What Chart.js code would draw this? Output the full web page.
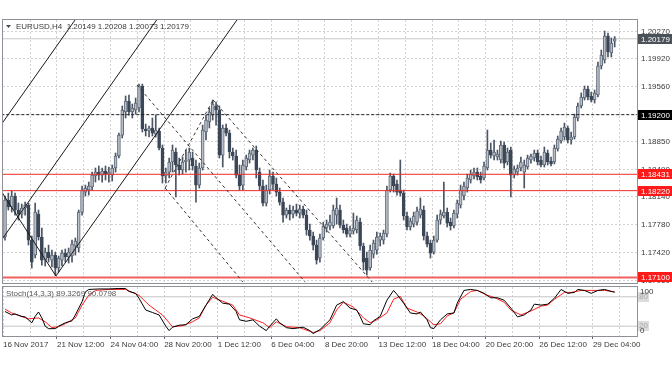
<!DOCTYPE html>
<html><head><meta charset="utf-8">
<script src="https://cdn.jsdelivr.net/npm/chart.js@4"></script>
<style>
html,body{margin:0;padding:0;background:#fff;}
#wrap{position:relative;width:672px;height:372px;overflow:hidden;background:#fff;}
#c1{position:absolute;left:0;top:0;}
#c2{position:absolute;left:0;top:283px;}
</style></head><body>
<div id="wrap"><canvas id="c1" width="672" height="285"></canvas><canvas id="c2" width="672" height="89"></canvas></div>
<script>
const symbol = 'EURUSD', timeframe = 'H4';
const opens=[1.17622,1.18099,1.18009,1.18151,1.17970,1.17918,1.17996,1.18034,1.17583,1.17389,1.17918,1.17622,1.17325,1.17428,1.17325,1.17389,1.17222,1.17325,1.17415,1.17364,1.17377,1.17506,1.17480,1.17944,1.18202,1.18228,1.18267,1.18409,1.18460,1.18421,1.18473,1.18434,1.18421,1.18512,1.18667,1.18937,1.19234,1.19376,1.19234,1.19260,1.19286,1.19570,1.19015,1.18989,1.19028,1.18950,1.18989,1.18770,1.18409,1.18460,1.18589,1.18718,1.18551,1.18486,1.18589,1.18615,1.18641,1.18538,1.18292,1.18512,1.18976,1.19105,1.19195,1.19312,1.19260,1.18679,1.19028,1.18963,1.18718,1.18667,1.18421,1.18292,1.18525,1.18615,1.18679,1.18744,1.18460,1.18280,1.18060,1.18228,1.18409,1.18305,1.18202,1.18073,1.17905,1.17970,1.17918,1.17970,1.17931,1.17983,1.17905,1.17712,1.17635,1.17518,1.17351,1.17609,1.17738,1.17764,1.17764,1.17905,1.17970,1.17776,1.17738,1.17660,1.17699,1.17712,1.17815,1.17506,1.17351,1.17222,1.17402,1.17454,1.17583,1.17583,1.17660,1.18228,1.18409,1.18305,1.18228,1.18189,1.17893,1.17751,1.17789,1.17815,1.17905,1.17970,1.17635,1.17544,1.17428,1.17583,1.17841,1.17893,1.17944,1.17815,1.17764,1.17918,1.18034,1.18151,1.18254,1.18357,1.18409,1.18460,1.18409,1.18383,1.18512,1.18744,1.18667,1.18654,1.18615,1.18809,1.18589,1.18744,1.18421,1.18460,1.18512,1.18460,1.18525,1.18615,1.18641,1.18705,1.18615,1.18551,1.18705,1.18602,1.18589,1.18757,1.18860,1.18912,1.19028,1.18873,1.18912,1.19157,1.19312,1.19415,1.19531,1.19441,1.19389,1.19454,1.19828,1.19905,1.20215,1.19995,1.20149];
const highs=[1.18151,1.18189,1.18215,1.18189,1.18060,1.18047,1.18073,1.18060,1.17635,1.18060,1.17970,1.17738,1.17480,1.17518,1.17454,1.17428,1.17377,1.17454,1.17467,1.17480,1.17583,1.17609,1.17970,1.18280,1.18292,1.18331,1.18460,1.18512,1.18538,1.18512,1.18538,1.18525,1.18551,1.18705,1.18963,1.19312,1.19441,1.19454,1.19337,1.19415,1.19595,1.19595,1.19079,1.19054,1.19157,1.19195,1.19028,1.18809,1.18512,1.18641,1.18809,1.18770,1.18641,1.18654,1.18744,1.18770,1.18718,1.18615,1.18576,1.19066,1.19195,1.19286,1.19389,1.19363,1.19312,1.19066,1.19079,1.19002,1.18770,1.18744,1.18551,1.18615,1.18679,1.18744,1.18770,1.18796,1.18512,1.18357,1.18292,1.18486,1.18460,1.18383,1.18254,1.18125,1.17996,1.18034,1.18022,1.18047,1.18034,1.18022,1.17970,1.17789,1.17686,1.17583,1.17660,1.17815,1.17841,1.17905,1.18034,1.18125,1.18034,1.17841,1.17789,1.17764,1.17931,1.17893,1.17867,1.17544,1.17428,1.17518,1.17583,1.17686,1.17673,1.17712,1.18280,1.18447,1.18434,1.18357,1.18615,1.18228,1.17944,1.17867,1.17944,1.18009,1.18125,1.18022,1.17686,1.17583,1.17635,1.17905,1.17970,1.18331,1.17996,1.17867,1.17970,1.18099,1.18292,1.18331,1.18434,1.18486,1.18512,1.18512,1.18460,1.18589,1.19002,1.18834,1.18873,1.18744,1.18860,1.18847,1.18770,1.18783,1.18538,1.18551,1.18654,1.18615,1.18679,1.18692,1.18744,1.18744,1.18667,1.18783,1.18744,1.18654,1.18809,1.18925,1.19028,1.19092,1.19054,1.18976,1.19208,1.19350,1.19480,1.19570,1.19570,1.19492,1.19518,1.19879,1.20034,1.20279,1.20253,1.20189,1.20208];
const lows=[1.17583,1.17970,1.17944,1.17905,1.17841,1.17867,1.17905,1.17518,1.17222,1.17351,1.17583,1.17260,1.17248,1.17299,1.17235,1.17131,1.17170,1.17248,1.17299,1.17286,1.17299,1.17389,1.17428,1.17905,1.18151,1.18163,1.18228,1.18331,1.18357,1.18331,1.18357,1.18331,1.18344,1.18460,1.18641,1.18899,1.19157,1.19195,1.19157,1.19208,1.19234,1.18976,1.18925,1.18912,1.18925,1.18912,1.18744,1.18318,1.18318,1.18383,1.18460,1.18138,1.18421,1.18434,1.18460,1.18486,1.18486,1.18073,1.18254,1.18486,1.18873,1.19028,1.19131,1.19066,1.18641,1.18525,1.18925,1.18641,1.18615,1.18383,1.18228,1.18228,1.18486,1.18576,1.18615,1.18383,1.18228,1.18022,1.18022,1.18176,1.18228,1.18151,1.18034,1.17815,1.17867,1.17841,1.17867,1.17893,1.17867,1.17867,1.17647,1.17583,1.17454,1.17273,1.17299,1.17583,1.17686,1.17712,1.17738,1.17789,1.17738,1.17673,1.17622,1.17622,1.17660,1.17673,1.17454,1.17196,1.17131,1.17196,1.17351,1.17402,1.17506,1.17531,1.17622,1.18202,1.18202,1.18163,1.18151,1.17841,1.17712,1.17712,1.17751,1.17776,1.17867,1.17583,1.17493,1.17351,1.17402,1.17557,1.17789,1.17867,1.17751,1.17712,1.17738,1.17867,1.17996,1.18099,1.18202,1.18318,1.18370,1.18357,1.18318,1.18357,1.18486,1.18641,1.18615,1.18615,1.18576,1.18512,1.18551,1.18138,1.18383,1.18421,1.18473,1.18254,1.18499,1.18576,1.18602,1.18551,1.18525,1.18525,1.18551,1.18538,1.18564,1.18731,1.18834,1.18873,1.18834,1.18821,1.18886,1.19118,1.19286,1.19389,1.19389,1.19363,1.19350,1.19428,1.19789,1.19866,1.19944,1.19944,1.20073];
const closes=[1.18099,1.18009,1.18151,1.17970,1.17918,1.17996,1.18034,1.17583,1.17299,1.17944,1.17622,1.17325,1.17428,1.17351,1.17389,1.17222,1.17351,1.17415,1.17364,1.17428,1.17531,1.17570,1.17944,1.18228,1.18254,1.18280,1.18421,1.18460,1.18421,1.18473,1.18434,1.18460,1.18512,1.18667,1.18937,1.19260,1.19376,1.19234,1.19286,1.19350,1.19570,1.19015,1.18989,1.19028,1.18963,1.19002,1.18770,1.18409,1.18460,1.18589,1.18744,1.18551,1.18486,1.18589,1.18615,1.18718,1.18538,1.18292,1.18512,1.19002,1.19131,1.19234,1.19337,1.19260,1.18679,1.19028,1.18963,1.18718,1.18667,1.18421,1.18280,1.18551,1.18641,1.18705,1.18744,1.18486,1.18280,1.18060,1.18228,1.18409,1.18305,1.18202,1.18073,1.17905,1.17970,1.17918,1.17970,1.17931,1.17983,1.17905,1.17712,1.17635,1.17518,1.17325,1.17609,1.17764,1.17789,1.17815,1.17970,1.17996,1.17776,1.17712,1.17660,1.17712,1.17738,1.17841,1.17506,1.17299,1.17196,1.17454,1.17544,1.17622,1.17635,1.17673,1.18228,1.18409,1.18280,1.18202,1.18189,1.17893,1.17751,1.17828,1.17893,1.17957,1.17983,1.17635,1.17531,1.17415,1.17583,1.17841,1.17918,1.17944,1.17802,1.17764,1.17931,1.18060,1.18228,1.18280,1.18383,1.18434,1.18460,1.18396,1.18357,1.18538,1.18744,1.18679,1.18718,1.18692,1.18809,1.18576,1.18718,1.18421,1.18499,1.18512,1.18589,1.18551,1.18641,1.18667,1.18705,1.18589,1.18551,1.18718,1.18589,1.18564,1.18770,1.18886,1.18989,1.19041,1.18873,1.18912,1.19170,1.19312,1.19428,1.19531,1.19428,1.19389,1.19480,1.19828,1.19970,1.20215,1.20008,1.20124,1.20179];

const priceTicks=[1.17060,1.17420,1.17780,1.18140,1.18490,1.18850,1.19200,1.19560,1.19920,1.20270];
const priceMin=1.17029, priceMax=1.20421;
const xMin=-0.6, xMax=188.66;
const xLabelPos=[-0.6,15.5,31.5,47.5,63.5,79.5,95.5,111.5,127.5,143.5,159.5,175.5];
const xLabels=['16 Nov 2017','21 Nov 12:00','24 Nov 04:00','28 Nov 20:00','1 Dec 12:00','6 Dec 04:00','8 Dec 20:00','13 Dec 12:00','18 Dec 04:00','20 Dec 20:00','26 Dec 12:00','29 Dec 04:00'];
const gridPos=[7.5,15.5,23.5,31.5,39.5,47.5,55.5,63.5,71.5,79.5,87.5,95.5,103.5,111.5,119.5,127.5,135.5,143.5,151.5,159.5,167.5,175.5,183.5];
const redLevels=[1.18431,1.18220,1.17100];
const blackLevel=1.19200;
// trend lines: [barIndex1, price1, barIndex2, price2]
const solidLines=[[-2,1.19019,25,1.20672],[-2,1.17524,50,1.20711],[15.2,1.17119,75,1.20773],[-1,1.18205,15.2,1.17119]];
const dashedLines=[[47.8,1.18254,62.1,1.19389],[39.4,1.19583,89.6,1.17041],[62.1,1.19389,109.6,1.17041],[47.8,1.18254,71,1.17041]];

const stochKIdx=[0,2,3,5,6,8,9,10,11,12,13,15,16,18,20,21,23,24,25,28,31,34,36,37,39,40,42,44,46,48,49,50,52,54,56,58,60,62,63,65,67,69,70,72,74,76,78,79,81,82,84,86,89,91,92,94,97,99,101,103,105,106,107,109,110,112,114,116,117,119,121,123,124,126,127,128,130,132,134,135,137,139,141,143,145,147,149,151,153,155,157,158,160,162,164,166,168,170,171,173,175,177,179,181,182];
const stochK=[50,43,45,40,39,27,40,49,37,20,15,15,20,27,31,43,70,90,95,96,96,97,97,91,87,77,53,48,43,20,11,18,22,23,35,40,63,85,78,67,65,50,33,30,33,20,11,20,35,27,17,15,18,11,5,13,33,63,70,57,53,40,25,23,31,40,73,93,85,67,47,45,49,33,17,15,33,45,47,67,93,95,93,87,78,78,73,57,39,43,53,65,63,65,77,95,87,89,95,93,87,93,95,91,89.3269];
const stochDIdx=[0,2,4,7,10,12,14,16,18,21,23,25,27,31,36,38,40,43,45,47,49,50,53,56,58,60,62,65,68,70,73,77,79,81,84,88,92,94,97,99,101,104,107,109,111,114,116,118,120,123,125,128,130,132,134,136,139,141,144,146,149,151,154,157,160,162,164,167,169,172,175,179,182];
const stochD=[55,47,42,35,37,29,17,19,25,37,63,83,93,95,95,89,83,63,53,43,27,19,21,29,37,63,79,71,63,43,37,27,17,29,19,17,7,11,27,53,69,59,37,27,33,47,75,81,57,49,41,23,25,41,47,75,91,93,83,79,69,53,43,51,61,63,75,89,89,93,93,93,90.0798];
const stochLevels=[80,20];
const stochBounds=[100,0];

const FONT='"Liberation Sans", Arial, sans-serif';
Chart.defaults.font.family=FONT;
Chart.defaults.font.size=8;

const last=closes.length-1;
const bull=closes.map((c,i)=>c>=opens[i]);
const wickData=highs.map((h,i)=>({x:i,y:[lows[i],h]}));
const bodyData=closes.map((c,i)=>({x:i,y:[opens[i],c]}));
const seg=(l)=>[{x:l[0],y:l[1]},{x:l[2],y:l[3]}];
const hline=(v)=>[{x:xMin-5,y:v},{x:xMax+5,y:v}];
const lineDs=(data,color,width,dash,order)=>({type:'line',data,borderColor:color,borderWidth:width,borderDash:dash||[],pointRadius:0,fill:false,tension:0,clip:0,order});
const noPadX=(h)=>function(s){s.height=h;s.paddingLeft=0;s.paddingRight=0;};
const noPadY=function(s){s.width=35;s.paddingTop=0;s.paddingBottom=0;};

const GRID='#d2d2d2';
const mainDeco={id:'mainDeco',afterDraw(chart){
  const {ctx,chartArea:a,scales:{y}}=chart;
  ctx.save();
  ctx.strokeStyle='#8d9096';ctx.lineWidth=1;ctx.setLineDash([]);
  ctx.strokeRect(Math.round(a.left)-0.5,Math.round(a.top)-0.5,Math.round(a.right-a.left)+1,Math.round(a.bottom-a.top)+1);
  ctx.fillStyle='#4a4a4a';
  ctx.beginPath();ctx.moveTo(a.left+3,a.top+5);ctx.lineTo(a.left+8,a.top+5);ctx.lineTo(a.left+5.5,a.top+8);ctx.closePath();ctx.fill();
  ctx.font='8px '+FONT;ctx.textBaseline='middle';ctx.textAlign='left';ctx.fillStyle='#3a3a3a';
  const t=symbol+','+timeframe+'  '+[opens[last],highs[last],lows[last],closes[last]].map(v=>v.toFixed(5)).join(' ');
  ctx.fillText(t,a.left+13,a.top+7);
  const box=(v,bg,fg)=>{const py=Math.round(y.getPixelForValue(v));ctx.fillStyle=bg;ctx.fillRect(a.right+1,py-5,34,10);ctx.fillStyle=fg;ctx.fillText(v.toFixed(5),a.right+4,py+0.5);};
  box(closes[last],'#4b5159','#ffffff');
  box(blackLevel,'#000000','#ffffff');
  redLevels.forEach(v=>box(v,'#ff1a1a','#ffffff'));
  ctx.restore();
}};

new Chart(document.getElementById('c1'),{
  type:'bar',
  data:{datasets:[
    lineDs(hline(closes[last]),'#c8c8c8',1,[],5),
    ...solidLines.map(l=>lineDs(seg(l),'#1a1a1a',1,[],0)),
    ...dashedLines.map(l=>lineDs(seg(l),'#333333',1,[3,3],0)),
    lineDs(hline(blackLevel),'#222222',1,[3,2],0),
    ...redLevels.map((v,k)=>lineDs(hline(v),k===2?'#f26060':'#ee2a2a',k===2?2:1,[],0)),
    {type:'bar',data:wickData,backgroundColor:'#4b5564',barThickness:1,grouped:false,order:3},
    {type:'bar',data:bodyData,backgroundColor:bull.map(b=>b?'#b9bfc8':'#3b4756'),borderColor:bull.map(b=>b?'#5f6977':'#3b4756'),borderWidth:1,borderSkipped:false,barThickness:3,minBarLength:1,grouped:false,order:2}
  ]},
  options:{responsive:false,animation:false,devicePixelRatio:1,events:[],
    layout:{padding:{left:3,top:20,right:0,bottom:2}},
    plugins:{legend:{display:false},tooltip:{enabled:false}},
    scales:{
      x:{type:'linear',min:xMin,max:xMax,offset:false,
        afterBuildTicks(s){s.ticks=gridPos.map(v=>({value:v}));},
        afterFit:noPadX(0),
        ticks:{display:false},grid:{color:GRID,drawTicks:false,offset:false},border:{display:false,dash:[2,2]}},
      y:{type:'linear',position:'right',min:priceMin,max:priceMax,
        afterBuildTicks(s){s.ticks=priceTicks.map(v=>({value:v}));},
        afterFit:noPadY,
        ticks:{callback:v=>Number(v).toFixed(5),color:'#3a3a3a',padding:4,autoSkip:false,font:{size:8}},
        grid:{color:GRID,drawTicks:false},border:{display:false,dash:[2,2]}}
    }
  },
  plugins:[mainDeco]
});

const stochDeco={id:'stochDeco',afterDraw(chart){
  const {ctx,chartArea:a,scales:{y}}=chart;
  ctx.save();
  ctx.strokeStyle='#8d9096';ctx.lineWidth=1;
  ctx.strokeRect(Math.round(a.left)-0.5,Math.round(a.top)-0.5,Math.round(a.right-a.left)+1,Math.round(a.bottom-a.top)+1);
  ctx.font='8px '+FONT;ctx.textBaseline='middle';ctx.textAlign='left';
  ctx.fillStyle='#5a5a5a';
  ctx.fillText('Stoch(14,3,3) '+stochK[stochK.length-1].toFixed(4)+' '+stochD[stochD.length-1].toFixed(4),a.left+3,a.top+7);
  const cy=v=>Math.min(Math.max(y.getPixelForValue(v),a.top+4.5),a.bottom-5);
  stochLevels.forEach(v=>{const py=Math.round(cy(v));ctx.fillStyle='#dcdcdc';ctx.fillRect(a.right+1,py-5,11,10);ctx.fillStyle='#a8a8a8';ctx.fillText(String(v),a.right+2,py);});
  ctx.fillStyle='#3a3a3a';
  stochBounds.forEach(v=>ctx.fillText(String(v),a.right+3,cy(v)));
  ctx.restore();
}};

new Chart(document.getElementById('c2'),{
  type:'line',
  data:{datasets:[
    lineDs(stochKIdx.map((x,j)=>({x,y:stochK[j]})),'#000000',1,[],0),
    lineDs(stochDIdx.map((x,j)=>({x,y:stochD[j]})),'#ff2020',1,[],1),
    ...stochLevels.map(v=>lineDs(hline(v),'#c4c4c4',1,[],2))
  ]},
  options:{responsive:false,animation:false,devicePixelRatio:1,events:[],
    layout:{padding:{left:3,top:4,right:0,bottom:0}},
    plugins:{legend:{display:false},tooltip:{enabled:false}},
    scales:{
      x:{type:'linear',min:xMin,max:xMax,offset:false,
        afterBuildTicks(s){s.ticks=[xLabelPos[0],...gridPos].map(v=>({value:v}));},
        afterFit:noPadX(36),
        ticks:{align:'start',color:'#3a3a3a',padding:1,autoSkip:false,maxRotation:0,font:{size:8},
          callback:v=>{const k=xLabelPos.indexOf(v);return k>=0?xLabels[k]:'';}},
        grid:{color:GRID,tickLength:3,tickBorderDash:[],tickColor:c=>(c.tick&&xLabelPos.indexOf(c.tick.value)>0)?'#666':'rgba(0,0,0,0)'},
        border:{display:false,dash:[2,2]}},
      y:{type:'linear',position:'right',min:0,max:100,afterFit:noPadY,
        ticks:{display:false},grid:{display:false},border:{display:false}}
    }
  },
  plugins:[stochDeco]
});
</script>
</body></html>
